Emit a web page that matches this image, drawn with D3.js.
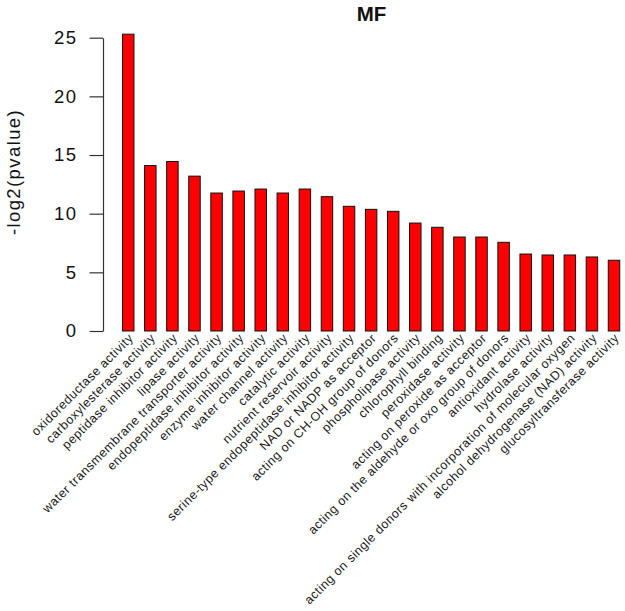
<!DOCTYPE html>
<html>
<head>
<meta charset="utf-8">
<script src="https://cdn.jsdelivr.net/npm/d3@7"></script>
<style>
  html, body { margin: 0; padding: 0; background: #fff; }
  svg { display: block; font-family: "Liberation Sans", Arial, sans-serif; }
</style>
</head>
<body>
<svg id="chart" width="625" height="611"></svg>
<script>
const title = "MF";
const yLabel = "-log2(pvalue)";
const categories = [
  "oxidoreductase activity",
  "carboxylesterase activity",
  "peptidase inhibitor activity",
  "lipase activity",
  "water transmembrane transporter activity",
  "endopeptidase inhibitor activity",
  "enzyme inhibitor activity",
  "water channel activity",
  "catalytic activity",
  "nutrient reservoir activity",
  "serine-type endopeptidase inhibitor activity",
  "NAD or NADP as acceptor",
  "acting on CH-OH group of donors",
  "phospholipase activity",
  "chlorophyll binding",
  "peroxidase activity",
  "acting on peroxide as acceptor",
  "acting on the aldehyde or oxo group of donors",
  "antioxidant activity",
  "hydrolase activity",
  "acting on single donors with incorporation of molecular oxygen",
  "alcohol dehydrogenase (NAD) activity",
  "glucosyltransferase activity"
];
const values = [25.3, 14.1, 14.45, 13.2, 11.76, 11.93, 12.1, 11.76, 12.1, 11.45, 10.63, 10.37, 10.2, 9.2, 8.84, 8.01, 8.01, 7.56, 6.56, 6.48, 6.48, 6.31, 6.03];
const yTicks = [0, 5, 10, 15, 20, 25];

const svg = d3.select("#chart");

// scales
const step = 22.08;
const padIn = 0.48, padOut = 0.44;
const x0 = 122.5 - padOut * step;
const x = d3.scaleBand()
  .domain(categories)
  .range([x0, x0 + step * (categories.length - padIn + 2 * padOut)])
  .paddingInner(padIn)
  .paddingOuter(padOut);

const y = d3.scaleLinear().domain([0, 25]).range([331, 37.7]);

// bars
svg.append("g").selectAll("rect")
  .data(categories)
  .join("rect")
  .attr("x", d => x(d))
  .attr("width", x.bandwidth())
  .attr("y", (d, i) => y(values[i]))
  .attr("height", (d, i) => y(0) - y(values[i]))
  .attr("fill", "#ff0000")
  .attr("stroke", "#111")
  .attr("stroke-width", 1);

// y axis
const yAxis = d3.axisLeft(y).tickValues(yTicks).tickSize(13.5).tickPadding(12).tickSizeOuter(0);
const gy = svg.append("g").attr("transform", "translate(103,0)").call(yAxis);
gy.select(".domain").attr("stroke", "#333").attr("stroke-width", 1.2);
gy.selectAll(".tick line").attr("stroke", "#333").attr("stroke-width", 1.2);
gy.selectAll(".tick text")
  .attr("font-size", 18.5)
  .attr("letter-spacing", 1.4)
  .attr("fill", "#111")
  .attr("font-family", "Liberation Sans, Arial, sans-serif");

// y label
svg.append("text")
  .attr("transform", "translate(20,172) rotate(-90)")
  .attr("text-anchor", "middle")
  .attr("font-size", 18.5)
  .attr("letter-spacing", 1.4)
  .attr("fill", "#111")
  .text(yLabel);

// title
svg.append("text")
  .attr("x", 371.5)
  .attr("y", 21)
  .attr("text-anchor", "middle")
  .attr("font-size", 20.5)
  .attr("font-weight", "bold")
  .attr("fill", "#111")
  .text(title);

// x labels (rotated 45 deg)
svg.append("g").selectAll("text")
  .data(categories)
  .join("text")
  .attr("transform", d => `translate(${x(d) + x.bandwidth() / 2 + 3},${336}) rotate(-45)`)
  .attr("text-anchor", "end")
  .attr("dominant-baseline", "central")
  .attr("font-size", 12.5)
  .attr("letter-spacing", 0.5)
  .attr("fill", "#1a1a1a")
  .text(d => d);
</script>
</body>
</html>
